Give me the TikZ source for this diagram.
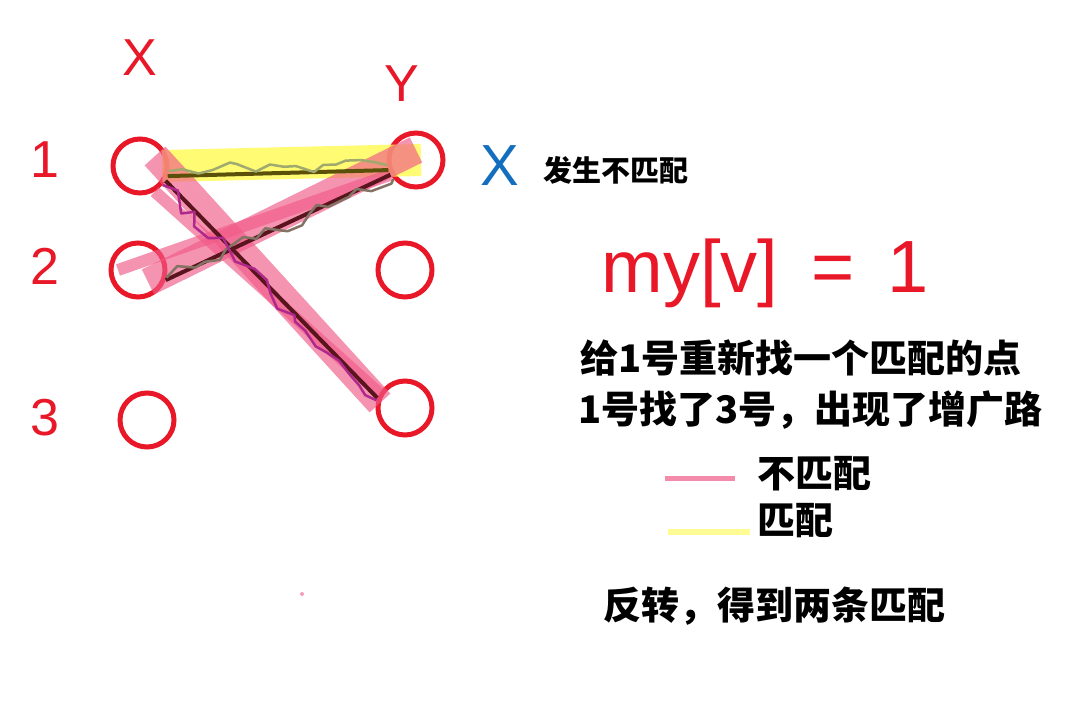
\documentclass[tikz,border=0pt]{standalone}
\usepackage{fontspec}
\setmainfont{Liberation Sans}
\newfontfamily\cjk{Noto Sans CJK SC}
\usetikzlibrary{decorations.pathmorphing}
\definecolor{penred}{RGB}{232,24,40}
\definecolor{penblue}{RGB}{20,110,190}
\definecolor{hlpink}{RGB}{240,90,135}
\definecolor{hlyellow}{RGB}{255,250,80}
\definecolor{darkline}{RGB}{90,20,30}
\definecolor{oliveline}{RGB}{90,80,10}
\tikzset{
  vtx/.style={circle,draw=penred,line width=5pt,minimum size=54pt,inner sep=0pt},
  hand/.style={text=penred,font=\fontsize{52}{56}\selectfont},
  note/.style={font=\cjk\bfseries\fontsize{38}{44}\selectfont,anchor=west,inner sep=0pt},
  pinkband/.style={draw=hlpink,opacity=0.65,line width=28pt},
  yellowband/.style={draw=hlyellow,opacity=0.8,line width=32pt},
  wobble/.style={decorate,decoration={random steps,segment length=14pt,amplitude=7pt},line width=2.5pt,line join=round}
}
\begin{document}
\begin{tikzpicture}[x=1pt,y=-1pt]
\useasboundingbox (0,0) rectangle (1092,708);
\path node[hand] (X) at (140,58) {X}
node[hand] (Y) at (402,84) {Y}
node[hand] (r1) at (45,160) {1}
node[hand] (r2) at (45,266) {2}
node[hand] (r3) at (45,418) {3}
node[vtx] (x1) at (140,166) {}
node[vtx] (x2) at (138,270) {}
node[vtx] (x3) at (147,420) {}
node[vtx] (y1) at (416,160) {}
node[vtx] (y2) at (405,270) {}
node[vtx] (y3) at (405,408) {}
node[text=penblue,font=\fontsize{58}{62}\selectfont] (cross) at (500,166) {X}
node[note,font=\cjk\bfseries\fontsize{29}{34}\selectfont] (bad) at (543,170) {发生不匹配}
node[hand,anchor=west,font=\fontsize{74}{80}\selectfont] (myv) at (598,273) {my[v]\,\ =\ \,1}
node[note] (l1) at (580,358) {给1号重新找一个匹配的点}
node[note] (l2) at (578,410) {1号找了3号，出现了增广路}
node[note] (k1) at (757,474) {不匹配}
node[note] (k2) at (757,521) {匹配}
node[note] (flip) at (603,606) {反转，得到两条匹配}
coordinate (p1) at (665,478)
coordinate (p2) at (735,478)
coordinate (q1) at (668,532)
coordinate (q2) at (750,532)
coordinate (dot) at (302,594)
;
\draw[yellowband] ([xshift=22pt]x1.center) -- ([xshift=5pt]y1.center);
\draw[pinkband] ([shift={(15pt,10pt)}]x1.center) -- ([shift={(-25pt,5pt)}]y3.center);
\draw[pinkband] ([shift={(10pt,-12pt)}]x2.center) -- ([shift={(0pt,10pt)}]y1.center);
\draw[pinkband,line width=12pt] (x1.-60) -- (y3.150);
\draw[pinkband,line width=12pt] ([xshift=-20pt]x2.center) -- (y1.-150);
\draw[oliveline,line width=4pt] (x1.-20) -- (y1.-160);
\draw[darkline,line width=4pt] (x1.-30) -- (y3.160);
\draw[darkline,line width=4pt] (x2.-20) -- (y1.-150);
\pgfmathsetseed{7}
\draw[wobble,draw={rgb,255:red,160;green,170;blue,110}] (x1.-10) -- (y1.-170);
\draw[wobble,draw={rgb,255:red,130;green,115;blue,100}] (x2.-15) -- (y1.-140);
\draw[wobble,draw={rgb,255:red,175;green,40;blue,140}] (x1.-40) -- (y3.165);
\draw[hlpink!70,line width=5pt] (p1) -- (p2);
\draw[hlyellow!60,line width=6pt] (q1) -- (q2);
\fill[hlpink!60] (dot) circle (2pt);
\end{tikzpicture}
\end{document}
